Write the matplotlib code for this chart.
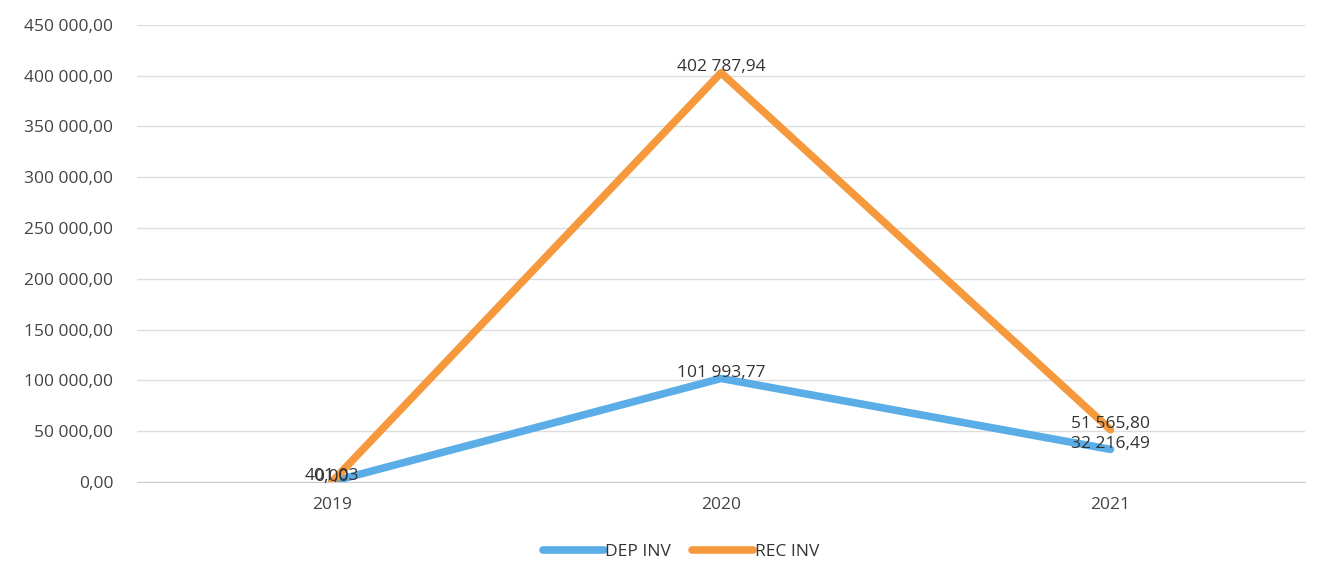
import numpy as np
import matplotlib.pyplot as plt

years = ['2019', '2020', '2021']
dep_inv = [401.03, 101993.77, 32216.49]
rec_inv = [0.00, 402787.94, 51565.80]
y_ticks = np.arange(0, 450001, 50000)


def fmt(v):
    s = '{:,.2f}'.format(v)
    return s.replace(',', ' ').replace('.', ',')


plt.rcParams['font.family'] = ['Open Sans', 'DejaVu Sans']

fig = plt.figure(figsize=(13.17, 5.76), dpi=100)
ax = fig.add_axes([0.104, 0.163, 0.887, 0.794])

x = np.arange(len(years))
ax.plot(x, dep_inv, color='#5aade6', linewidth=5.5, solid_capstyle='round', label='DEP INV', zorder=3)
ax.plot(x, rec_inv, color='#f5993c', linewidth=5.5, solid_capstyle='round', label='REC INV', zorder=4)

for xi, v in zip(x, dep_inv):
    ax.annotate(fmt(v), (xi, v), xytext=(0, 4), textcoords='offset points',
                ha='center', va='center', fontsize=12.5, color='#333333', zorder=5)
for xi, v in zip(x, rec_inv):
    ax.annotate(fmt(v), (xi, v), xytext=(0, 4), textcoords='offset points',
                ha='center', va='center', fontsize=12.5, color='#333333', zorder=5)

ax.set_xlim(-0.5, len(years) - 0.5)
ax.set_ylim(0, 450000)
ax.set_xticks(x)
ax.set_xticklabels(years, fontsize=12.5, color='#444444')
ax.set_yticks(y_ticks)
ax.set_yticklabels([fmt(v) for v in y_ticks], fontsize=12.5, color='#444444')
ax.tick_params(axis='y', length=0, pad=17)
ax.tick_params(axis='x', length=0, pad=11)
ax.yaxis.grid(True, color='#dddddd', linewidth=1)
ax.set_axisbelow(True)
for s in ['top', 'right', 'left']:
    ax.spines[s].set_visible(False)
ax.spines['bottom'].set_color('#cccccc')

fig.legend(loc='lower center', bbox_to_anchor=(0.517, 0.0), ncol=2, frameon=False,
           fontsize=12.5, handlelength=3.5, handletextpad=0.1, columnspacing=1.2,
           labelcolor='#333333')

fig.savefig('out.png', dpi=100)
